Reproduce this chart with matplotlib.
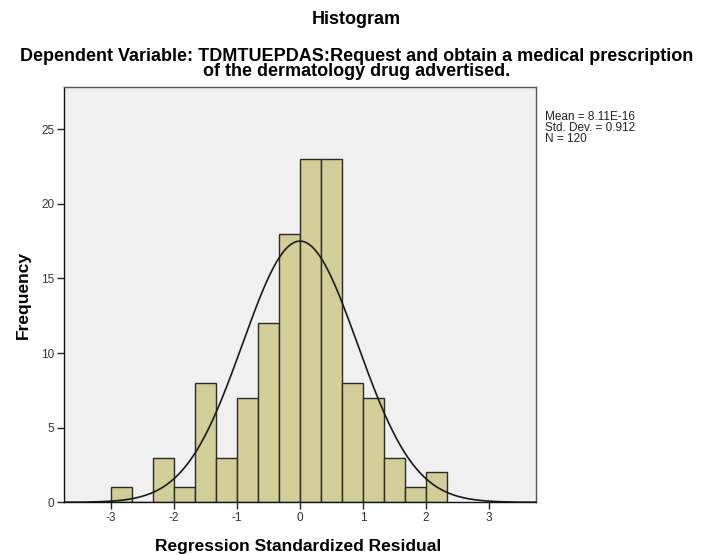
import numpy as np
import matplotlib
matplotlib.use("Agg")
import matplotlib.pyplot as plt

plt.rcParams['font.family'] = ['Liberation Sans', 'DejaVu Sans']

bin_edges = [-3.0, -8/3, -7/3, -2.0, -5/3, -4/3, -1.0, -2/3, -1/3, 0.0,
             1/3, 2/3, 1.0, 4/3, 5/3, 2.0, 7/3]
counts = [1, 0, 3, 1, 8, 3, 7, 12, 18, 23, 23, 8, 7, 3, 1, 2]
mean = 8.11e-16
std = 0.912
n = 120
x_ticks = [-3, -2, -1, 0, 1, 2, 3]
y_ticks = [0, 5, 10, 15, 20, 25]

W, H = 705, 554
fig = plt.figure(figsize=(W/100, H/100), dpi=100)
ax = fig.add_axes([64/W, (H-502.3)/H, (536-64)/W, (502.3-87.3)/H])
ax.set_facecolor('#F0F0F0')

lefts = np.array(bin_edges[:-1])
widths = np.diff(bin_edges)
ax.bar(lefts, counts, width=widths, align='edge', color='#D3CE97',
       edgecolor='#2a2a2a', linewidth=1.0, zorder=2)

xs = np.linspace(-3.75, 3.75, 600)
bw = widths[0]
pdf = n * bw / (std * np.sqrt(2 * np.pi)) * np.exp(-0.5 * ((xs - mean) / std) ** 2)
ax.plot(xs, pdf, color='#1a1a1a', linewidth=1.2, zorder=3)

ax.set_xlim(-3.746, 3.746)
ax.set_ylim(0, 27.8)
ax.set_xticks(x_ticks)
ax.set_xticklabels([str(t) for t in x_ticks])
ax.set_yticks(y_ticks)
ax.set_yticklabels([str(t) for t in y_ticks])
ax.tick_params(direction='out', length=5, width=1, labelsize=8.5,
               colors='#222222', labelcolor='#333333', pad=2)
for s in ax.spines.values():
    s.set_color('#555555')
    s.set_linewidth(1.0)
ax.spines['bottom'].set_color('#111111')
ax.spines['left'].set_color('#111111')

fig.text(298/W, 1 - 546/H, 'Regression Standardized Residual',
         ha='center', va='center', fontsize=12.5, fontweight='bold')
fig.text(23/W, 1 - 295/H, 'Frequency', rotation=90,
         ha='center', va='center', fontsize=12.5, fontweight='bold')

fig.text(356.5/W, 1 - 20/H, 'Histogram', ha='center', va='center',
         fontsize=13, fontweight='bold')
fig.text(356.5/W, 1 - 64/H,
         'Dependent Variable: TDMTUEPDAS:Request and obtain a medical prescription\nof the dermatology drug advertised.',
         ha='center', va='center', fontsize=13, fontweight='bold', linespacing=0.9)

fig.text(545/W, 1 - 111/H,
         'Mean = 8.11E-16\nStd. Dev. = 0.912\nN = 120',
         ha='left', va='top', fontsize=8.5, color='#222222', linespacing=0.9)

fig.savefig('out.png', dpi=100, facecolor='white')
